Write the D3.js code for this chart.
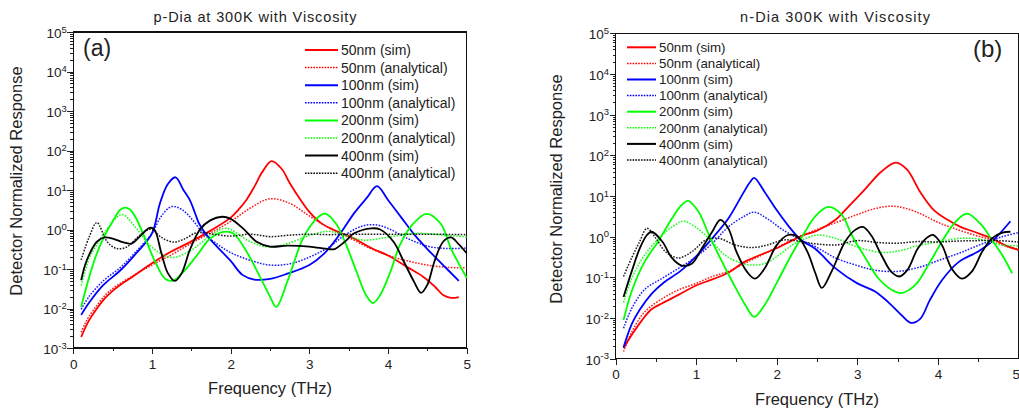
<!DOCTYPE html>
<html>
<head>
<meta charset="utf-8">
<script src="https://cdn.jsdelivr.net/npm/d3@7"></script>
<style>
body { margin: 0; background: #fff; }
text { font-family: "Liberation Sans", Arial, sans-serif; fill: #222; }
</style>
</head>
<body>
<svg width="1019" height="411"></svg>
<script>
// ---- data: [frequency THz, normalized response] ----
// panel (a) p-Dia
var pSim50 = [[0.1,0.0019],[0.15,0.0032],[0.2,0.005],[0.3,0.01],[0.4,0.018],[0.5,0.028],[0.6,0.04],[0.75,0.063],[1.0,0.14],[1.25,0.28],[1.5,0.5],[1.75,0.95],[2.0,2.0],[2.1,3.2],[2.2,5.6],[2.3,12],[2.4,28],[2.52,54],[2.65,34],[2.75,15],[2.9,5.2],[3.0,2.8],[3.15,1.45],[3.3,1.0],[3.45,0.75],[3.6,0.55],[3.8,0.33],[4.0,0.22],[4.25,0.11],[4.45,0.063],[4.6,0.035],[4.7,0.022],[4.8,0.0186],[4.9,0.0195]];
var pAna50 = [[0.1,0.0025],[0.15,0.0042],[0.2,0.0063],[0.3,0.012],[0.4,0.021],[0.5,0.032],[0.75,0.066],[1.0,0.126],[1.25,0.23],[1.5,0.45],[1.75,0.83],[2.0,1.6],[2.25,3.5],[2.5,6.0],[2.75,4.6],[3.0,2.2],[3.25,1.1],[3.5,0.63],[3.75,0.35],[4.0,0.22],[4.25,0.16],[4.5,0.126],[4.75,0.11],[5.0,0.107]];
var pSim100 = [[0.1,0.0069],[0.2,0.014],[0.38,0.039],[0.6,0.093],[0.8,0.25],[1.0,0.8],[1.1,4.5],[1.2,14],[1.3,21],[1.4,10],[1.48,5.6],[1.55,2.5],[1.6,1.4],[1.7,0.7],[1.82,0.38],[2.0,0.16],[2.15,0.071],[2.3,0.054],[2.5,0.056],[2.72,0.076],[3.0,0.126],[3.2,0.26],[3.4,0.83],[3.57,2.6],[3.73,6.3],[3.86,12.6],[4.0,5.6],[4.17,2.0],[4.34,0.72],[4.5,0.32],[4.7,0.126],[4.9,0.05]];
var pAna100 = [[0.1,0.0095],[0.2,0.02],[0.38,0.05],[0.6,0.11],[0.8,0.28],[1.0,0.8],[1.12,2.2],[1.25,3.8],[1.38,3.2],[1.5,1.9],[1.65,0.81],[1.82,0.44],[2.0,0.26],[2.25,0.166],[2.5,0.126],[2.75,0.135],[3.0,0.2],[3.25,0.36],[3.45,0.72],[3.66,1.2],[3.83,1.32],[4.0,1.07],[4.25,0.59],[4.5,0.38],[4.75,0.33],[5.0,0.34]];
var pSim200 = [[0.1,0.011],[0.21,0.071],[0.3,0.25],[0.38,0.59],[0.51,1.74],[0.6,3.2],[0.66,3.6],[0.72,3.2],[0.8,1.9],[0.93,0.49],[1.06,0.126],[1.17,0.056],[1.27,0.051],[1.4,0.085],[1.57,0.22],[1.74,0.59],[1.91,0.87],[2.03,0.8],[2.2,0.28],[2.37,0.065],[2.5,0.02],[2.58,0.011],[2.72,0.048],[2.9,0.49],[3.0,1.12],[3.13,2.2],[3.21,2.5],[3.34,1.4],[3.47,0.4],[3.6,0.085],[3.72,0.022],[3.81,0.0138],[3.9,0.022],[4.03,0.085],[4.15,0.4],[4.32,1.4],[4.49,2.5],[4.67,1.4],[4.8,0.33],[5.0,0.06]];
var pAna200 = [[0.1,0.038],[0.2,0.18],[0.27,0.33],[0.45,1.17],[0.62,2.4],[0.8,1.07],[0.97,0.4],[1.18,0.21],[1.3,0.2],[1.5,0.3],[1.74,0.7],[1.91,1.07],[2.0,1.0],[2.25,0.49],[2.5,0.36],[2.72,0.44],[3.0,0.7],[3.24,0.9],[3.47,0.7],[3.68,0.54],[3.9,0.59],[4.15,0.72],[4.4,0.8],[4.7,0.72],[5.0,0.65]];
var pSim400 = [[0.1,0.052],[0.15,0.126],[0.21,0.25],[0.3,0.49],[0.4,0.63],[0.51,0.58],[0.64,0.47],[0.74,0.44],[0.86,0.71],[0.97,1.1],[1.03,1.0],[1.12,0.25],[1.2,0.08],[1.29,0.05],[1.38,0.08],[1.48,0.3],[1.61,1.0],[1.74,1.7],[1.89,2.1],[2.0,1.86],[2.16,1.05],[2.33,0.49],[2.5,0.37],[2.72,0.39],[3.0,0.37],[3.24,0.32],[3.32,0.32],[3.45,0.49],[3.57,0.8],[3.79,1.07],[3.9,1.0],[4.07,0.49],[4.2,0.155],[4.33,0.048],[4.42,0.025],[4.5,0.04],[4.59,0.155],[4.7,0.49],[4.8,0.63],[4.9,0.42],[5.0,0.25]];
var pAna400 = [[0.1,0.17],[0.2,0.63],[0.3,1.5],[0.43,0.49],[0.55,0.33],[0.68,0.36],[0.8,0.59],[0.93,0.95],[1.0,1.0],[1.12,0.63],[1.27,0.48],[1.4,0.56],[1.57,0.83],[1.78,0.76],[2.0,0.68],[2.25,0.76],[2.5,0.66],[2.75,0.72],[3.0,0.76],[3.25,0.74],[3.5,0.76],[4.0,0.76],[4.5,0.76],[5.0,0.74]];

// panel (b) n-Dia
var nSim50 = [[0.1,0.0018],[0.2,0.0038],[0.33,0.0089],[0.45,0.0166],[0.58,0.023],[0.78,0.037],[1.0,0.063],[1.2,0.089],[1.4,0.13],[1.6,0.24],[1.77,0.34],[2.0,0.52],[2.19,0.8],[2.35,1.12],[2.5,1.4],[2.73,2.6],[2.89,5.5],[3.1,15],[3.3,40],[3.48,66],[3.62,44],[3.78,12.6],[3.95,4.5],[4.12,2.6],[4.28,1.74],[4.45,1.32],[4.67,0.91],[4.83,0.62],[5.0,0.47]];
var nAna50 = [[0.1,0.0015],[0.2,0.0045],[0.36,0.014],[0.58,0.03],[0.78,0.049],[1.0,0.071],[1.2,0.105],[1.4,0.14],[1.6,0.22],[1.77,0.32],[2.0,0.54],[2.25,0.95],[2.5,1.5],[2.73,2.2],[3.0,3.5],[3.22,4.9],[3.42,5.6],[3.58,5.1],[3.78,3.7],[3.99,2.3],[4.2,1.6],[4.45,1.1],[4.67,0.83],[4.87,0.56],[5.0,0.5]];
var nSim100 = [[0.1,0.0019],[0.2,0.007],[0.3,0.016],[0.45,0.04],[0.6,0.075],[0.8,0.14],[1.0,0.33],[1.2,0.91],[1.4,2.8],[1.57,10.5],[1.67,22],[1.72,28],[1.85,12.6],[2.0,4.5],[2.14,1.9],[2.3,0.83],[2.48,0.5],[2.73,0.166],[3.0,0.071],[3.22,0.045],[3.38,0.025],[3.55,0.0117],[3.67,0.0076],[3.78,0.0095],[3.9,0.0275],[4.05,0.085],[4.26,0.24],[4.5,0.43],[4.67,0.76],[4.9,2.4]];
var nAna100 = [[0.1,0.0056],[0.2,0.017],[0.36,0.05],[0.58,0.095],[0.78,0.166],[1.0,0.32],[1.2,0.68],[1.4,1.74],[1.6,3.2],[1.72,4.0],[1.88,2.8],[2.05,1.6],[2.26,0.91],[2.5,0.54],[2.73,0.3],[3.0,0.195],[3.22,0.15],[3.5,0.14],[3.78,0.18],[4.03,0.27],[4.26,0.39],[4.51,0.62],[4.8,1.0],[5.0,1.26]];
var nSim200 = [[0.1,0.0089],[0.2,0.045],[0.36,0.24],[0.53,0.76],[0.7,2.8],[0.82,6.0],[0.9,7.6],[1.03,4.1],[1.16,1.1],[1.28,0.35],[1.45,0.078],[1.61,0.021],[1.72,0.0107],[1.85,0.021],[2.02,0.087],[2.18,0.35],[2.35,1.3],[2.48,3.2],[2.64,5.4],[2.81,3.4],[2.93,1.1],[3.1,0.3],[3.26,0.095],[3.43,0.049],[3.55,0.041],[3.72,0.065],[3.88,0.2],[4.05,0.76],[4.2,2.1],[4.36,3.7],[4.54,1.95],[4.67,0.83],[4.8,0.35],[4.92,0.126]];
var nAna200 = [[0.1,0.024],[0.2,0.093],[0.36,0.35],[0.58,1.1],[0.74,1.95],[0.84,2.4],[0.99,1.74],[1.16,0.91],[1.36,0.35],[1.57,0.22],[1.69,0.2],[1.85,0.22],[2.0,0.32],[2.19,0.62],[2.35,0.89],[2.5,1.1],[2.73,0.91],[3.0,0.56],[3.3,0.41],[3.5,0.44],[3.78,0.62],[4.03,0.76],[4.26,0.91],[4.51,0.87],[4.8,0.62],[5.0,0.6]];
var nSim400 = [[0.1,0.033],[0.2,0.138],[0.3,0.51],[0.39,1.1],[0.45,1.32],[0.58,0.76],[0.7,0.3],[0.82,0.195],[0.95,0.22],[1.07,0.51],[1.2,1.32],[1.3,2.6],[1.4,1.6],[1.5,0.43],[1.63,0.138],[1.73,0.093],[1.85,0.166],[2.0,0.62],[2.14,1.1],[2.26,1.0],[2.38,0.43],[2.48,0.126],[2.56,0.055],[2.68,0.138],[2.85,0.76],[2.97,1.45],[3.07,1.74],[3.17,1.1],[3.3,0.35],[3.42,0.138],[3.52,0.105],[3.62,0.15],[3.75,0.51],[3.88,1.0],[3.94,1.1],[4.05,0.62],[4.17,0.166],[4.3,0.093],[4.42,0.138],[4.55,0.43],[4.67,0.91],[4.8,1.26],[4.9,1.32]];
var nAna400 = [[0.1,0.105],[0.2,0.3],[0.3,0.76],[0.39,1.6],[0.5,0.91],[0.62,0.43],[0.78,0.3],[0.95,0.43],[1.12,0.83],[1.28,0.91],[1.49,0.62],[1.69,0.54],[1.88,0.62],[2.09,0.83],[2.3,0.76],[2.5,0.66],[2.75,0.63],[3.0,0.8],[3.25,0.72],[3.5,0.69],[3.75,0.76],[4.0,0.74],[4.25,0.78],[4.5,0.8],[4.75,0.8],[5.0,0.74]];

var sizes = ["50nm", "100nm", "200nm", "400nm"];
var colors = ["#ff0000", "#0000ff", "#00ff00", "#000000"];
var xTicks = [0, 1, 2, 3, 4, 5];
var yTicks = [1e-3, 1e-2, 1e-1, 1e0, 1e1, 1e2, 1e3, 1e4, 1e5];

var svg = d3.select("svg");

function drawPanel(p) {
    var x = d3.scaleLinear().domain([0, 5]).range([p.left, p.right]);
    var y = d3.scaleLog().domain([1e-3, 1e5]).range([p.bottom, p.top]);
    var g = svg.append("g");

    // minor ticks
    var yMinor = y.ticks().filter(d => yTicks.indexOf(d) < 0);
    g.append("g")
        .attr("transform", "translate(" + p.left + ",0)")
        .call(d3.axisLeft(y).tickValues(yMinor).tickSize(3).tickFormat("").tickSizeOuter(0));
    g.append("g")
        .attr("transform", "translate(0," + p.bottom + ")")
        .call(d3.axisBottom(x).tickValues([0.5, 1.5, 2.5, 3.5, 4.5]).tickSize(3).tickFormat("").tickSizeOuter(0));

    // major y axis with 10^n labels
    var ya = g.append("g")
        .attr("transform", "translate(" + p.left + ",0)")
        .call(d3.axisLeft(y).tickValues(yTicks).tickSize(6).tickSizeOuter(0));
    ya.selectAll("text").each(function(d) {
        var t = d3.select(this);
        t.attr("font-size", "13.5px").attr("dy", "0.4em").attr("x", -6.5)
            .attr("text-anchor", "end");
        t.text(null);
        t.append("tspan").text("10");
        t.append("tspan").attr("dy", "-0.55em").attr("font-size", "9.5px")
            .text(Math.round(Math.log10(d)));
    });

    var xa = g.append("g")
        .attr("transform", "translate(0," + p.bottom + ")")
        .call(d3.axisBottom(x).tickValues(xTicks).tickFormat(d3.format("d")).tickSize(6).tickPadding(5).tickSizeOuter(0));
    xa.selectAll("text").attr("font-size", "13.5px");
    // keep the last label inside the page
    if (p.right > 1010)
        xa.selectAll("text").filter(d => d == 5).attr("text-anchor", "end").attr("x", 1);

    g.selectAll(".domain").remove();
    g.selectAll(".tick line").attr("stroke", "#222").attr("shape-rendering", "crispEdges");
    g.selectAll(".tick text").attr("fill", "#222").attr("font-family", '"Liberation Sans", Arial, sans-serif');

    // frame
    g.append("rect")
        .attr("x", p.left).attr("y", p.top)
        .attr("width", p.right - p.left).attr("height", p.bottom - p.top)
        .attr("fill", "none").attr("stroke", "#111").attr("stroke-width", 1.2)
        .attr("shape-rendering", "crispEdges");

    var line = d3.line()
        .x(d => x(d[0]))
        .y(d => y(d[1]))
        .curve(d3.curveCatmullRom.alpha(0.5));

    p.series.forEach(function(s, i) {
        var c = colors[Math.floor(i / 2)];
        var ana = i % 2 == 1;
        g.append("path")
            .attr("d", line(s))
            .attr("fill", "none")
            .attr("stroke", c)
            .attr("stroke-width", ana ? 1.5 : 1.8)
            .attr("stroke-dasharray", ana ? "1.6,1.4" : null)
            .attr("stroke-opacity", ana ? 0.9 : 1);
    });

    // legend
    var lg = g.append("g");
    p.series.forEach(function(s, i) {
        var c = colors[Math.floor(i / 2)];
        var ana = i % 2 == 1;
        var ly = p.legY + i * p.legStep;
        lg.append("line")
            .attr("x1", p.legX).attr("x2", p.legX + p.legLen)
            .attr("y1", ly).attr("y2", ly)
            .attr("stroke", c)
            .attr("stroke-width", ana ? 1.5 : 2)
            .attr("stroke-dasharray", ana ? "1.6,1.2" : null);
        lg.append("text")
            .attr("x", p.legX + p.legLen + 3)
            .attr("y", ly)
            .attr("dy", "0.36em")
            .attr("font-size", p.legFont + "px")
            .text(sizes[Math.floor(i / 2)] + (ana ? " (analytical)" : " (sim)"));
    });

    // titles and labels
    g.append("text")
        .attr("x", p.titleX).attr("y", 22)
        .attr("text-anchor", "middle")
        .attr("font-size", "14.5px")
        .attr("textLength", p.titleW).attr("lengthAdjust", "spacing")
        .text(p.title);
    g.append("text")
        .attr("x", (p.left + p.right) / 2).attr("y", p.xLabY)
        .attr("text-anchor", "middle")
        .attr("font-size", "16.5px")
        .text("Frequency (THz)");
    g.append("text")
        .attr("transform", "translate(" + p.yLabX + "," + p.yLabY + ") rotate(-90)")
        .attr("text-anchor", "middle")
        .attr("font-size", "16.5px")
        .text("Detector Normalized Response");
    g.append("text")
        .attr("x", p.tagX).attr("y", p.tagY)
        .attr("font-size", p.tagFont + "px")
        .attr("fill", "#111")
        .text(p.tag);
}

drawPanel({
    left: 73.3, right: 466.7, top: 32, bottom: 348,
    series: [pSim50, pAna50, pSim100, pAna100, pSim200, pAna200, pSim400, pAna400],
    legX: 305, legLen: 33, legY: 50, legStep: 17.6, legFont: 14,
    title: "p-Dia at 300K with Viscosity", titleX: 255, titleW: 203,
    xLabY: 394, yLabX: 22, yLabY: 181,
    tag: "(a)", tagX: 83, tagY: 56, tagFont: 23
});

drawPanel({
    left: 615.5, right: 1018.5, top: 33.3, bottom: 358.7,
    series: [nSim50, nAna50, nSim100, nAna100, nSim200, nAna200, nSim400, nAna400],
    legX: 627, legLen: 29, legY: 47.3, legStep: 16.1, legFont: 13.3,
    title: "n-Dia 300K with Viscosity", titleX: 835, titleW: 190,
    xLabY: 405, yLabX: 562, yLabY: 189,
    tag: "(b)", tagX: 973, tagY: 57, tagFont: 24
});
</script>
</body>
</html>
